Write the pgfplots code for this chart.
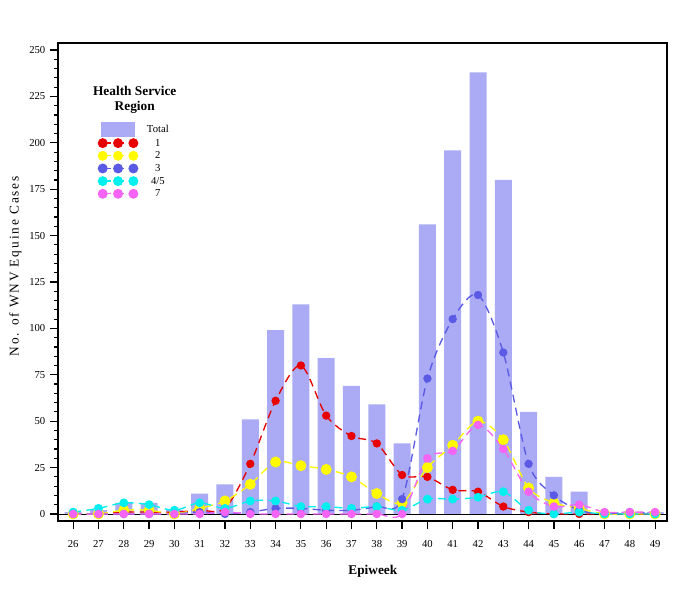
\documentclass[border=0pt]{standalone}
\usepackage{fontspec}
\setmainfont{Liberation Serif}
\newfontfamily\spaced[LetterSpace=14]{Liberation Serif}
\usepackage{pgfplots}
\usepackage{pgfplotstable}
\pgfplotsset{compat=1.18}
\definecolor{barcol}{RGB}{170,170,245}
\definecolor{rone}{RGB}{232,0,0}
\definecolor{rtwo}{RGB}{255,250,0}
\definecolor{rthree}{RGB}{90,90,228}
\definecolor{rfour}{RGB}{0,240,240}
\definecolor{rseven}{RGB}{245,100,245}
\pgfplotstableread{
week total r1 r2 r3 r45 r7
26 1 0 0 0 1 0
27 2 0 0 0 3 0
28 6 1 2 0 6 0
29 6 1 2 0 5 0
30 2 1 0 0 2 0
31 11 2 3 1 6 0
32 16 3 7 0 3 1
33 51 27 16 1 7 0
34 99 61 28 3 7 0
35 113 80 26 3 4 0
36 84 53 24 2 4 0
37 69 42 20 2 3 0
38 59 38 11 4 4 0
39 38 21 6 8 2 0
40 156 20 25 73 8 30
41 196 13 37 105 8 34
42 238 12 50 118 9 48
43 180 4 40 87 12 35
44 55 1 14 27 2 12
45 20 0 6 10 0 4
46 12 0 3 2 1 5
47 1 0 0 0 0 1
48 1 0 0 1 0 1
49 1 0 0 0 0 1
}\datatable
\begin{document}
\begin{tikzpicture}
\useasboundingbox (-43.5pt,-57pt) rectangle (470.25pt,390.75pt);
\begin{axis}[
  at={(0,0)}, anchor=south west,
  scale only axis, width=456.75pt, height=358.5pt,
  xmin=25.4, xmax=49.47, ymin=-3.8, ymax=253.8,
  xtick={26,...,49}, ytick={0,25,...,250}, minor y tick num=4,
  tick align=outside, xtick pos=bottom, ytick pos=left,
  axis line style={line width=2.2pt},
  every tick/.style={black, line width=0.9pt},
  major tick length=6pt, minor tick length=3pt,
  tick label style={font=\fontsize{8}{9}\selectfont},
  xticklabel style={yshift=-5pt},
  /pgf/number format/assume math mode=true,
  xlabel={\fontsize{10}{12}\selectfont\bfseries Epiweek},
  xlabel style={at={(rel axis cs:0.517,0)}, anchor=center, yshift=-38pt},
  ylabel={\fontsize{10}{12}\selectfont\spaced No. of WNV Equine Cases},
  ylabel style={at={(rel axis cs:0,0.533)}, anchor=center, yshift=32pt},
  legend style={at={(rel axis cs:0.066,0.835)}, anchor=north west, draw=none, fill=none,
    inner sep=0pt, font=\fontsize{8}{9}\selectfont, column sep=6pt,
    nodes={text height=6pt, text depth=1.5pt, inner sep=1pt}},
  legend cell align=center,
  legend image code/.code={\draw[#1, mark repeat=1, mark size=3.2pt] plot coordinates {(1.5pt,0) (13pt,0) (24.5pt,0)};},
  line styles/.style={line width=1pt, dash pattern=on 6pt off 4pt, smooth, mark=*, mark options={solid}},
]
\addplot[ybar, bar width=12.75pt, bar shift=0pt, fill=barcol, draw=none,
  legend image code/.code={\fill[barcol] (0pt,-5.5pt) rectangle (26pt,5.5pt);}]
  table[x=week, y=total] {\datatable};
\addlegendentry{Total}
\addplot[black, line width=0.6pt, forget plot] coordinates {(25.4,0) (49.47,0)};
\addplot[rone, line styles, mark size=2.6pt] table[x=week, y=r1] {\datatable};
\addlegendentry{1}
\addplot[rtwo, line styles, mark size=3.6pt] table[x=week, y=r2] {\datatable};
\addlegendentry{2}
\addplot[rthree, line styles, mark size=2.6pt] table[x=week, y=r3] {\datatable};
\addlegendentry{3}
\addplot[rfour, line styles, mark size=2.8pt] table[x=week, y=r45] {\datatable};
\addlegendentry{4/5}
\addplot[rseven, line styles, mark size=2.7pt] table[x=week, y=r7] {\datatable};
\addlegendentry{7}
\node[font=\fontsize{10}{11}\selectfont\bfseries, align=center] at (rel axis cs:0.126,0.881) {Health Service\\Region};
\end{axis}
\end{tikzpicture}
\end{document}
